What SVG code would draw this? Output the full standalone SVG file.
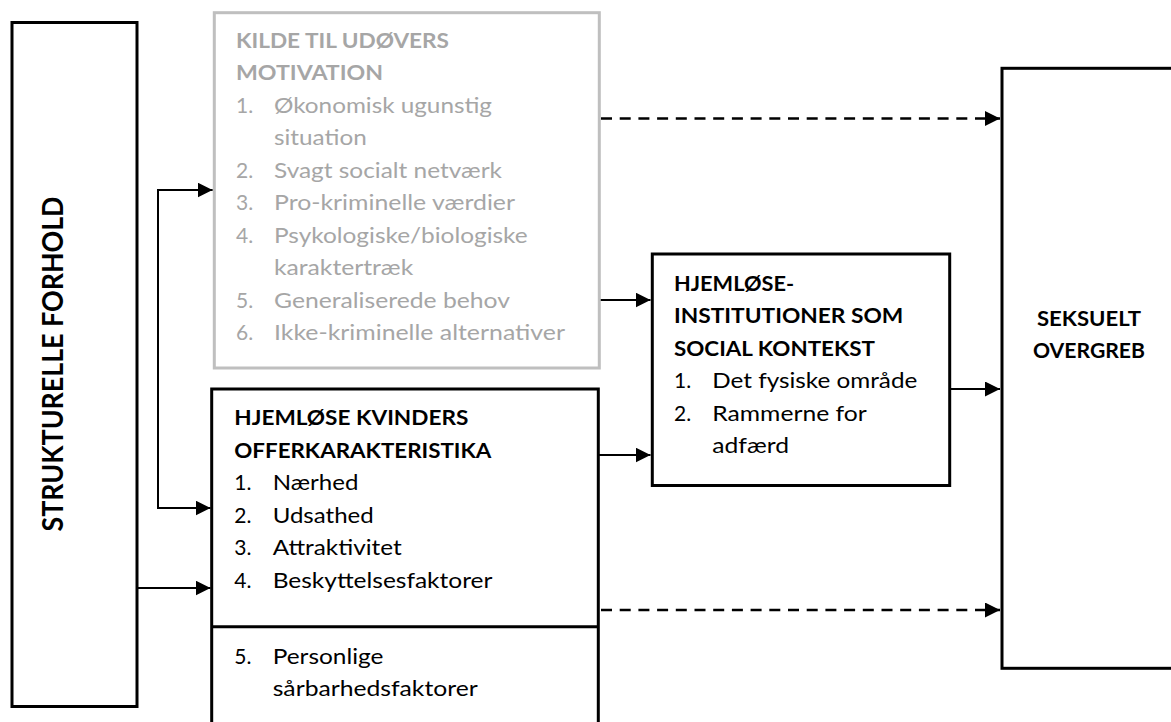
<svg xmlns="http://www.w3.org/2000/svg" width="1171" height="722" viewBox="0 0 1171 722">
<style>
.box{fill:#fff;stroke:#000;stroke-width:3}
.gbox{fill:#fff;stroke:#BFBFBF;stroke-width:3}
text{font-family:Lato,"Liberation Sans",sans-serif;font-size:21px;fill:#000}
.b{font-weight:bold}
.g{fill:#A6A6A6}
.c{fill:none;stroke:#000;stroke-width:2}
.d{fill:none;stroke:#000;stroke-width:2.5;stroke-dasharray:11 7.7}
</style>
<defs>
<marker id="ah" markerUnits="userSpaceOnUse" markerWidth="15" markerHeight="15" viewBox="0 0 15 15" refX="15" refY="7.5" orient="auto">
<path d="M0,0 L15,7.5 L0,15 z" fill="#000"/>
</marker>
</defs>
<g id="connectors">
<polyline class="c" points="212.5,190 158,190 158,508 210.5,508" marker-end="url(#ah)"/>
<path class="c" d="M158,190 H212.5" marker-end="url(#ah)"/>
<path class="c" d="M137,588 H210.5" marker-end="url(#ah)"/>
<path class="c" d="M599,300 H650.5" marker-end="url(#ah)"/>
<path class="c" d="M598,455 H650.5" marker-end="url(#ah)"/>
<path class="c" d="M950,389 H1000" marker-end="url(#ah)"/>
<path class="d" d="M601,118.5 H1000" marker-end="url(#ah)"/>
<path class="d" d="M601,610 H1000" marker-end="url(#ah)"/>
</g>
<g id="strukturelle">
<rect class="box" x="12" y="22.5" width="125" height="684"/>
<text class="b" transform="translate(63.3,364) rotate(-90)" text-anchor="middle" style="font-size:29px" textLength="335" lengthAdjust="spacingAndGlyphs">STRUKTURELLE FORHOLD</text>
</g>
<g id="motivation">
<rect class="gbox" x="214.3" y="12.7" width="385" height="355.3"/>
<text class="b g" x="236" y="47.5" textLength="213" lengthAdjust="spacingAndGlyphs">KILDE TIL UDØVERS</text>
<text class="b g" x="236" y="80" textLength="147" lengthAdjust="spacingAndGlyphs">MOTIVATION</text>
<text class="g" x="236" y="112.5">1.</text>
<text class="g" x="274" y="112.5" textLength="218" lengthAdjust="spacingAndGlyphs">Økonomisk ugunstig</text>
<text class="g" x="274" y="145" textLength="92.7" lengthAdjust="spacingAndGlyphs">situation</text>
<text class="g" x="236" y="177.5">2.</text>
<text class="g" x="274" y="177.5" textLength="228" lengthAdjust="spacingAndGlyphs">Svagt socialt netværk</text>
<text class="g" x="236" y="210">3.</text>
<text class="g" x="274" y="210" textLength="241" lengthAdjust="spacingAndGlyphs">Pro-kriminelle værdier</text>
<text class="g" x="236" y="242.5">4.</text>
<text class="g" x="274" y="242.5" textLength="253.7" lengthAdjust="spacingAndGlyphs">Psykologiske/biologiske</text>
<text class="g" x="274" y="275" textLength="139.3" lengthAdjust="spacingAndGlyphs">karaktertræk</text>
<text class="g" x="236" y="307.5">5.</text>
<text class="g" x="274" y="307.5" textLength="236" lengthAdjust="spacingAndGlyphs">Generaliserede behov</text>
<text class="g" x="236" y="340">6.</text>
<text class="g" x="274" y="340" textLength="291" lengthAdjust="spacingAndGlyphs">Ikke-kriminelle alternativer</text>
</g>
<g id="offer">
<rect class="box" x="211.7" y="389" width="386.6" height="340"/>
<line x1="211.7" y1="626.7" x2="598.3" y2="626.7" stroke="#000" stroke-width="3"/>
<text class="b" x="234.3" y="424.5" textLength="234" lengthAdjust="spacingAndGlyphs">HJEMLØSE KVINDERS</text>
<text class="b" x="234.3" y="457.5" textLength="257" lengthAdjust="spacingAndGlyphs">OFFERKARAKTERISTIKA</text>
<text x="234.3" y="490">1.</text>
<text x="272.7" y="490" textLength="85.7" lengthAdjust="spacingAndGlyphs">Nærhed</text>
<text x="234.3" y="522.5">2.</text>
<text x="272.7" y="522.5" textLength="101" lengthAdjust="spacingAndGlyphs">Udsathed</text>
<text x="234.3" y="555">3.</text>
<text x="272.7" y="555" textLength="129" lengthAdjust="spacingAndGlyphs">Attraktivitet</text>
<text x="234.3" y="587.5">4.</text>
<text x="272.7" y="587.5" textLength="219.7" lengthAdjust="spacingAndGlyphs">Beskyttelsesfaktorer</text>
<text x="234.3" y="663.5">5.</text>
<text x="272.7" y="663.5" textLength="110.7" lengthAdjust="spacingAndGlyphs">Personlige</text>
<text x="272.7" y="695.5" textLength="205" lengthAdjust="spacingAndGlyphs">sårbarhedsfaktorer</text>
</g>
<g id="institution">
<rect class="box" x="652.3" y="254" width="297.4" height="231.5"/>
<text class="b" x="674" y="290.5" textLength="120" lengthAdjust="spacingAndGlyphs">HJEMLØSE-</text>
<text class="b" x="674" y="323" textLength="229.3" lengthAdjust="spacingAndGlyphs">INSTITUTIONER SOM</text>
<text class="b" x="674" y="355.5" textLength="201" lengthAdjust="spacingAndGlyphs">SOCIAL KONTEKST</text>
<text x="674" y="388">1.</text>
<text x="712.3" y="388" textLength="205" lengthAdjust="spacingAndGlyphs">Det fysiske område</text>
<text x="674" y="420.5">2.</text>
<text x="712.3" y="420.5" textLength="154.4" lengthAdjust="spacingAndGlyphs">Rammerne for</text>
<text x="712.3" y="453" textLength="76.7" lengthAdjust="spacingAndGlyphs">adfærd</text>
</g>
<g id="overgreb">
<rect class="box" x="1002" y="68.3" width="180" height="600"/>
<text class="b" x="1089" y="326" text-anchor="middle" textLength="104" lengthAdjust="spacingAndGlyphs">SEKSUELT</text>
<text class="b" x="1089" y="358" text-anchor="middle" textLength="112" lengthAdjust="spacingAndGlyphs">OVERGREB</text>
</g>
</svg>
